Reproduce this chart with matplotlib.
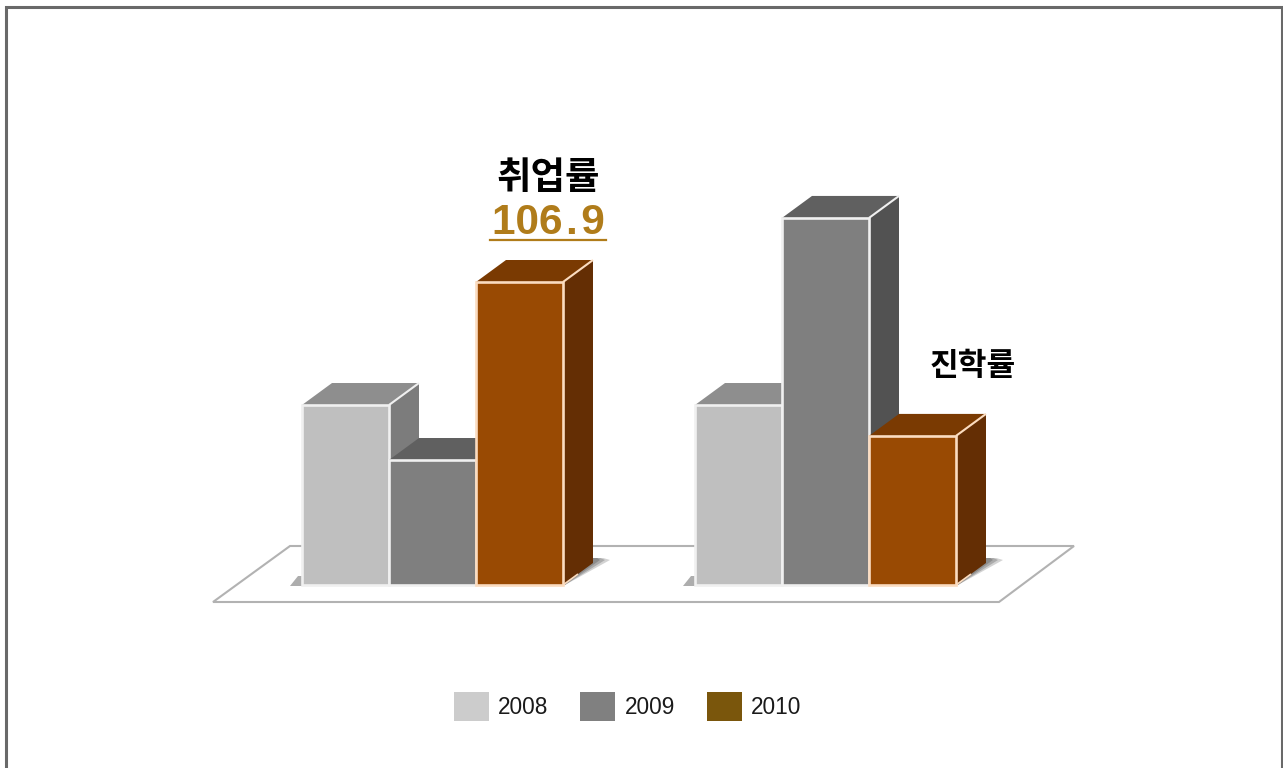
import matplotlib
matplotlib.use("Agg")
import matplotlib.pyplot as plt
from matplotlib.patches import Polygon, Patch, Rectangle

plt.rcParams['font.family'] = ['Liberation Sans', 'Noto Sans CJK KR', 'DejaVu Sans']

years = ['2008', '2009', '2010']
groups = ['취업률', '진학률']
employment = [63.5, 44.1, 106.9]
advancement = [63.5, 129.5, 52.6]

front_cols = ['#bfbfbf', '#7f7f7f', '#994a03']
top_cols = ['#8e8e8e', '#606060', '#7a3a02']
side_cols = ['#7c7c7c', '#525252', '#642e04']
edge_cols = ['#f0f0f0', '#f0f0f0', '#fbdcc0']
legend_cols = ['#cccccc', '#808080', '#7a560c']

W, H = 1283, 768
PX_X = 87.0          # pixels per bar width
PX_Y = 303 / 106.9   # pixels per value unit
X0, Y0 = 302, 585    # where the first bar meets the floor
DX = 30 / PX_X
DY = 22 / PX_Y


def xp(px):
    return (px - X0) / PX_X


def yp(py):
    return (Y0 - py) / PX_Y


def bar3d(ax, x, val, i):
    w = 1.0
    z = 3 + 0.1 * i
    top = [(x, val), (x + w, val), (x + w + DX, val + DY), (x + DX, val + DY)]
    side = [(x + w, 0), (x + w + DX, DY), (x + w + DX, val + DY), (x + w, val)]
    ax.add_patch(Polygon(top, fc=top_cols[i], ec='none', zorder=z))
    ax.add_patch(Polygon(side, fc=side_cols[i], ec='none', zorder=z))
    # bright seams on the box corners
    ax.plot([x + w, x + w + DX], [val, val + DY], color=edge_cols[i], lw=1.5,
            solid_capstyle='butt', zorder=z + 0.005)
    ax.plot([x + w, x + w + DX * 0.5], [0, DY * 0.5], color=edge_cols[i], lw=1.2,
            solid_capstyle='butt', zorder=z + 0.005)
    ax.bar(x, val, w, align='edge', color=front_cols[i], edgecolor=edge_cols[i],
           linewidth=1.9, zorder=z + 0.01)


fig = plt.figure(figsize=(W / 100, H / 100), dpi=100)
ax = fig.add_axes([0, 0, 1, 1])
ax.set_xlim(xp(0), xp(W))
ax.set_ylim(yp(H), yp(0))
ax.axis('off')

# frame of the picture
ax.add_patch(Rectangle((xp(5.5), yp(H + 10)), (W - 6.5) / PX_X, (H + 3.5) / PX_Y,
                       fc='white', ec='#696969', lw=2.2, zorder=0))

# floor
floor = [(xp(213), yp(602)), (xp(999), yp(602)), (xp(1074), yp(546)), (xp(290), yp(546))]
ax.add_patch(Polygon(floor, fc='white', ec='#b2b2b2', lw=1.5, zorder=1))

# soft shadows on the floor, either side of each group
for start in [X0, 695]:
    ax.add_patch(Polygon([(xp(start - 12), yp(586)), (xp(start), yp(586)), (xp(start), yp(576)),
                          (xp(start - 4), yp(576))],
                         fc='#8a8a8a', ec='none', alpha=0.7, zorder=2))
    end = start + 3 * PX_X
    for grow, alpha in [(17, 0.3), (12, 0.4), (7, 0.5)]:
        ax.add_patch(Polygon([(xp(end + 2), yp(585)), (xp(end + 30 + grow), yp(560)),
                              (xp(end + 30 + grow * 0.6), yp(558)), (xp(end), yp(558))],
                             fc='#6f6f6f', ec='none', alpha=alpha, zorder=2))

for offset, vals in zip([xp(302), xp(695)], [employment, advancement]):
    for i, v in enumerate(vals):
        bar3d(ax, offset + i, v, i)

ax.text(xp(548), yp(177), groups[0], ha='center', va='center', fontsize=27,
        fontweight='bold', color='black', family=['Noto Sans CJK KR', 'DejaVu Sans'])
# hair spaces open up the decimal point as in the original lettering
ax.text(xp(548), yp(222.5), ('%.1f' % employment[2]).replace('.', '\u200a.\u200a'),
        ha='center', va='center', fontsize=30.5, fontweight='bold', color='#b07c1a')
ax.plot([xp(490), xp(606)], [yp(239.5), yp(239.5)], color='#b07c1a', lw=1.6, zorder=5)
ax.text(xp(972.5), yp(366.5), groups[1], ha='center', va='center', fontsize=22.5,
        fontweight='bold', color='black', family=['Noto Sans CJK KR', 'DejaVu Sans'])

handles = [Patch(fc=c, ec='none', label=y) for c, y in zip(legend_cols, years)]
ax.legend(handles=handles, ncol=3, loc='center', bbox_to_anchor=(627.5 / W, 1 - 706.5 / H),
          frameon=False, fontsize=16.3, handlelength=1.55, handleheight=1.56,
          handletextpad=0.4, columnspacing=1.42, labelcolor='#1a1a1a')

fig.savefig('out.png', dpi=100)
